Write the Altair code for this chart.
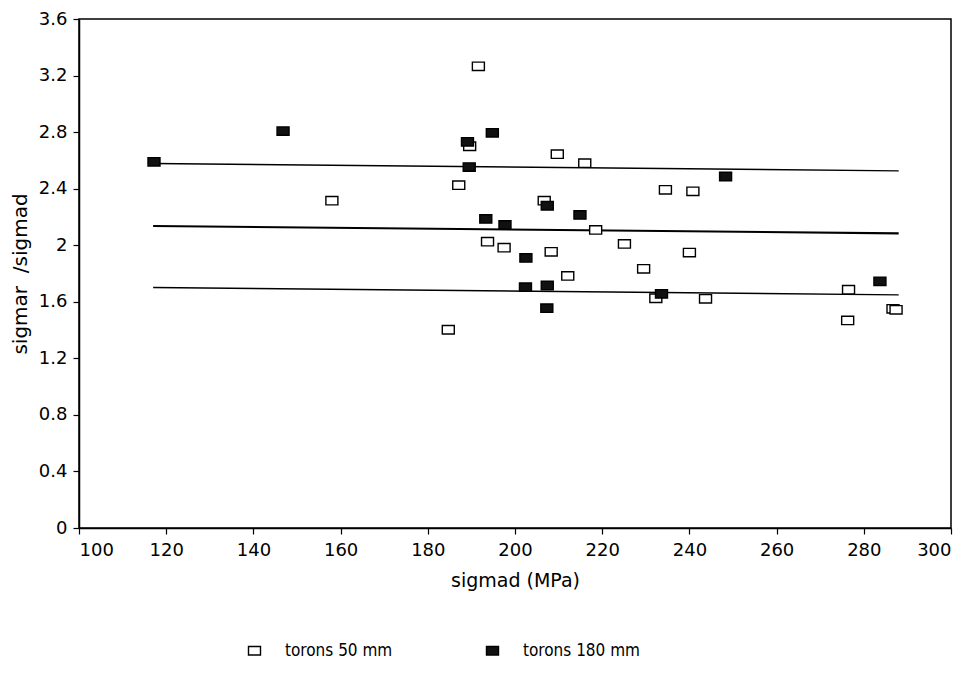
import altair as alt
import pandas as pd

# ---- data ----
open_x = [191.6, 189.6, 209.7, 216.0, 187.1, 158.0, 206.7, 218.5, 193.7, 197.5, 208.3, 225.1,
          229.5, 212.1, 184.7, 234.5, 240.8, 240.0, 232.3, 243.7, 276.5, 276.3, 286.7, 287.4]
open_y = [3.265, 2.70, 2.644, 2.58, 2.425, 2.315, 2.315, 2.108, 2.025, 1.983, 1.953, 2.009,
          1.833, 1.783, 1.402, 2.392, 2.381, 1.948, 1.625, 1.621, 1.685, 1.468, 1.55, 1.543]
filled_x = [117.2, 146.8, 194.8, 189.1, 189.5, 207.4, 214.9, 193.3, 197.7, 202.5, 202.4,
            207.4, 207.3, 248.3, 233.6, 283.7]
filled_y = [2.59, 2.807, 2.795, 2.731, 2.553, 2.279, 2.214, 2.186, 2.143, 1.910, 1.703,
            1.715, 1.555, 2.486, 1.656, 1.745]

line_x = [117, 288]
upper_y = [2.578, 2.526]
mean_y = [2.136, 2.084]
lower_y = [1.701, 1.649]

series = ["torons 50 mm", "torons 180 mm"]
x_ticks = [100, 120, 140, 160, 180, 200, 220, 240, 260, 280, 300]
y_ticks = [0, 0.4, 0.8, 1.2, 1.6, 2, 2.4, 2.8, 3.2, 3.6]

pts = pd.DataFrame(
    {"x": open_x + filled_x,
     "y": open_y + filled_y,
     "s": [series[0]] * len(open_x) + [series[1]] * len(filled_x)}
)
lines = pd.DataFrame(
    {"x": line_x * 3,
     "y": upper_y + mean_y + lower_y,
     "k": ["upper"] * 2 + ["mean"] * 2 + ["lower"] * 2,
     "w": [1.3] * 2 + [2.2] * 2 + [1.3] * 2}
)

FONT = "DejaVu Sans"
LFONT = "DejaVu Sans Condensed"
RECT = "M-1,-0.7L1,-0.7L1,0.7L-1,0.7Z"
NB = "\u00a0"

xs = alt.Scale(domain=[100, 300], nice=False, zero=False)
ys = alt.Scale(domain=[0, 3.6], nice=False)

xax = alt.Axis(values=x_ticks, title="sigmad (MPa)", format="d")
yax = alt.Axis(values=y_ticks, title="sigmar" + NB * 2 + "/sigmad", format="~g", titleFontSize=20)

line_layer = alt.Chart(lines).mark_line(color="black").encode(
    x=alt.X("x:Q", scale=xs, axis=xax),
    y=alt.Y("y:Q", scale=ys, axis=yax),
    detail="k:N",
    strokeWidth=alt.StrokeWidth("w:Q", scale=None),
)


def leg():
    return alt.Legend(title=None, orient="none", direction="horizontal",
                      legendX=167, legendY=623, columns=2,
                      labelFont=LFONT, labelFontSize=17,
                      labelOffset=22, columnPadding=90,
                      symbolSize=144, symbolStrokeWidth=1.4, padding=0)


pt_layer = alt.Chart(pts).mark_point(
    strokeWidth=1.4, opacity=1, filled=False, size=144
).encode(
    x=alt.X("x:Q", scale=xs),
    y=alt.Y("y:Q", scale=ys),
    shape=alt.Shape("s:N", scale=alt.Scale(domain=series, range=[RECT, RECT]), legend=leg()),
    fill=alt.Fill("s:N", scale=alt.Scale(domain=series, range=["white", "#111111"]), legend=leg()),
    stroke=alt.Stroke("s:N", scale=alt.Scale(domain=series, range=["black", "black"]), legend=leg()),
)

chart = alt.layer(line_layer, pt_layer).properties(
    width=872, height=509,
    autosize=alt.AutoSizeParams(type="none"),
    padding={"left": 71, "top": 11, "right": 14, "bottom": 142},
).configure_view(
    stroke="black", strokeWidth=1.5
).configure_axis(
    grid=False, domainColor="black", domainWidth=1.5, tickColor="black",
    tickSize=6, tickWidth=1.2, labelColor="black", labelFont=FONT,
    labelFontSize=18, titleFont=FONT, titleFontSize=19, titleFontWeight="normal",
    titleColor="black",
).configure_axisX(
    labelPadding=7, titlePadding=12
).configure_axisY(
    labelPadding=6, titlePadding=8
)

chart.save("out.html", embed_options={"renderer": "svg", "actions": False})
